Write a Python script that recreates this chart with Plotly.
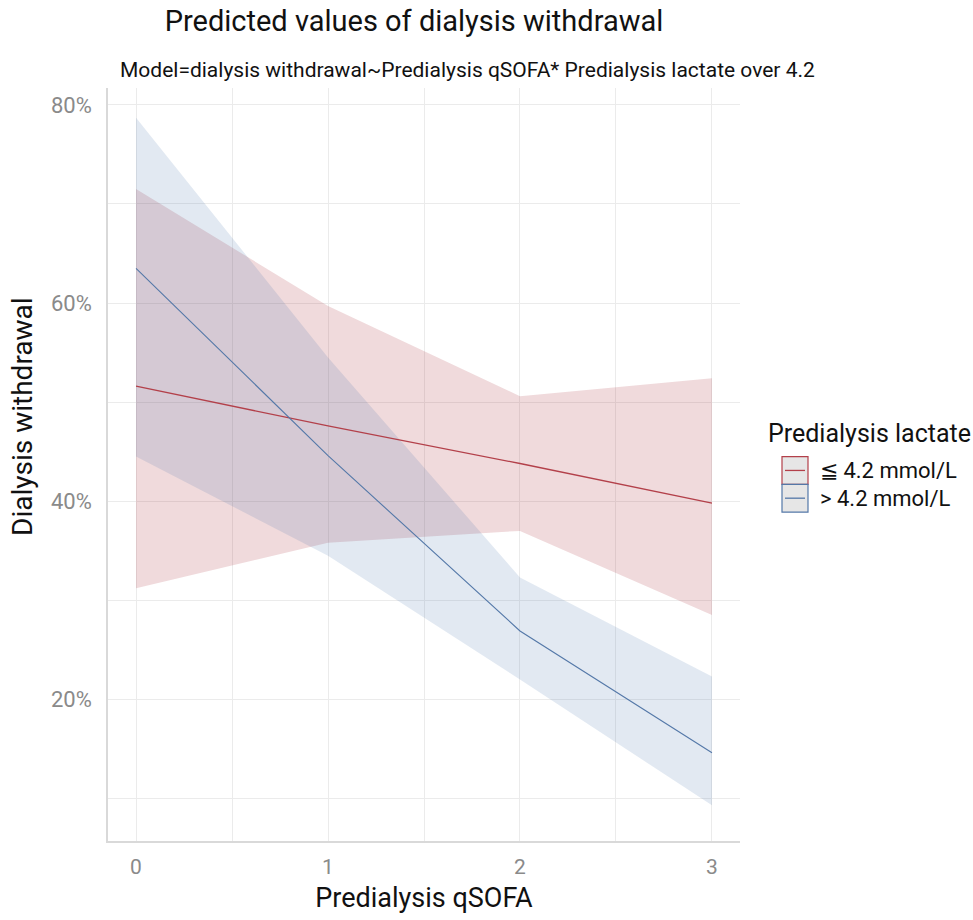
import plotly.graph_objects as go

# ---- data ----
qsofa = [0, 1, 2, 3]
low_pred = [51.6, 47.6, 43.8, 39.8]
low_lo = [31.2, 35.8, 37.0, 28.5]
low_hi = [71.5, 59.7, 50.6, 52.4]
high_pred = [63.5, 44.6, 26.9, 14.6]
high_lo = [44.5, 34.5, 22.0, 9.3]
high_hi = [78.7, 54.5, 32.3, 22.3]

y_tickvals = [20, 40, 60, 80]
y_ticktext = ["20%", "40%", "60%", "80%"]
x_tickvals = [0, 1, 2, 3]
x_ticktext = ["0", "1", "2", "3"]

legend_title = "Predialysis lactate"
group_labels = ["≦ 4.2 mmol/L", "> 4.2 mmol/L"]

RED_FILL = "rgba(155,8,22,0.15)"
BLUE_FILL = "rgba(62,108,168,0.15)"
RED_LINE = "#b3404a"
BLUE_LINE = "#5478a8"
FONT = "Roboto"

fig = go.Figure()

# red band
fig.add_trace(go.Scatter(x=qsofa, y=low_hi, mode="lines", line=dict(width=0),
                         showlegend=False, hoverinfo="skip"))
fig.add_trace(go.Scatter(x=qsofa, y=low_lo, mode="lines", line=dict(width=0),
                         fill="tonexty", fillcolor=RED_FILL, showlegend=False, hoverinfo="skip"))
# blue band
fig.add_trace(go.Scatter(x=qsofa, y=high_hi, mode="lines", line=dict(width=0),
                         showlegend=False, hoverinfo="skip"))
fig.add_trace(go.Scatter(x=qsofa, y=high_lo, mode="lines", line=dict(width=0),
                         fill="tonexty", fillcolor=BLUE_FILL, showlegend=False, hoverinfo="skip"))
# lines
fig.add_trace(go.Scatter(x=qsofa, y=low_pred, mode="lines", line=dict(color=RED_LINE, width=1.3),
                         name=group_labels[0], showlegend=False))
fig.add_trace(go.Scatter(x=qsofa, y=high_pred, mode="lines", line=dict(color=BLUE_LINE, width=1.1),
                         name=group_labels[1], showlegend=False))

L, R, T, B = 108, 233, 88, 72
W, H = 973, 920
pw, ph = W - L - R, H - T - B


def px(xp):
    return (xp - L) / pw


def py(yp):
    return (H - B - yp) / ph


shapes = []
annotations = []

# manual legend (ggplot-style keys)
keys = [(460, 488, RED_LINE), (488, 516, BLUE_LINE)]
for (y0, y1, col), lab in zip(keys, group_labels):
    shapes.append(dict(type="rect", xref="paper", yref="paper",
                       x0=px(782), x1=px(808), y0=py(y1), y1=py(y0),
                       fillcolor="#e6e6e6", line=dict(color=col, width=1.2), layer="above"))
    shapes.append(dict(type="line", xref="paper", yref="paper",
                       x0=px(785), x1=px(805), y0=py((y0 + y1) / 2), y1=py((y0 + y1) / 2),
                       line=dict(color=col, width=1.3), layer="above"))
    annotations.append(dict(text=lab, xref="paper", yref="paper", x=px(818), y=py((y0 + y1) / 2),
                            xanchor="left", yanchor="middle", showarrow=False,
                            font=dict(family=FONT, size=22, color="#111111")))

annotations.append(dict(text=legend_title, xref="paper", yref="paper", x=px(766), y=py(437),
                        xanchor="left", yanchor="middle", showarrow=False,
                        font=dict(family=FONT, size=25, color="#111111")))

# subtitle
annotations.append(dict(text="Model=dialysis withdrawal~Predialysis qSOFA* Predialysis lactate over 4.2",
                        xref="paper", yref="paper", x=px(467), y=py(70),
                        xanchor="center", yanchor="middle", showarrow=False,
                        font=dict(family=FONT, size=21, color="#111111")))

# y-axis title (placed off-centre as in the reference)
annotations.append(dict(text="Dialysis withdrawal", xref="paper", yref="paper",
                        x=px(23), y=py(420), xanchor="center", yanchor="middle",
                        textangle=-90, showarrow=False,
                        font=dict(family=FONT, size=28, color="#111111")))

fig.update_layout(
    width=W, height=H,
    margin=dict(l=L, r=R, t=T, b=B),
    paper_bgcolor="white", plot_bgcolor="white",
    title=dict(text="Predicted values of dialysis withdrawal", x=414 / W, xanchor="center",
               y=1 - 21 / H, yanchor="middle", xref="container", yref="container",
               font=dict(family=FONT, size=29, color="#111111")),
    shapes=shapes, annotations=annotations,
    showlegend=False,
    xaxis=dict(range=[-0.146, 3.146], tickvals=x_tickvals, ticktext=x_ticktext,
               showgrid=True, gridcolor="#ebebeb", gridwidth=1,
               minor=dict(dtick=0.5, tick0=0, showgrid=True, gridcolor="#ebebeb", gridwidth=1),
               zeroline=False, showline=True, linecolor="#d9d9d9", linewidth=1.5,
               ticks="", ticklabelstandoff=6,
               tickfont=dict(family=FONT, size=21, color="#8a8a8a"),
               title=dict(text="Predialysis qSOFA", standoff=10,
                          font=dict(family=FONT, size=27, color="#111111"))),
    yaxis=dict(range=[5.7, 81.7], tickvals=y_tickvals, ticktext=y_ticktext,
               showgrid=True, gridcolor="#ebebeb", gridwidth=1,
               minor=dict(dtick=10, tick0=0, showgrid=True, gridcolor="#ebebeb", gridwidth=1),
               zeroline=False, showline=True, linecolor="#d9d9d9", linewidth=1.5,
               ticks="", ticklabelstandoff=10,
               tickfont=dict(family=FONT, size=22, color="#8a8a8a")),
)

fig.write_html("out.html")
